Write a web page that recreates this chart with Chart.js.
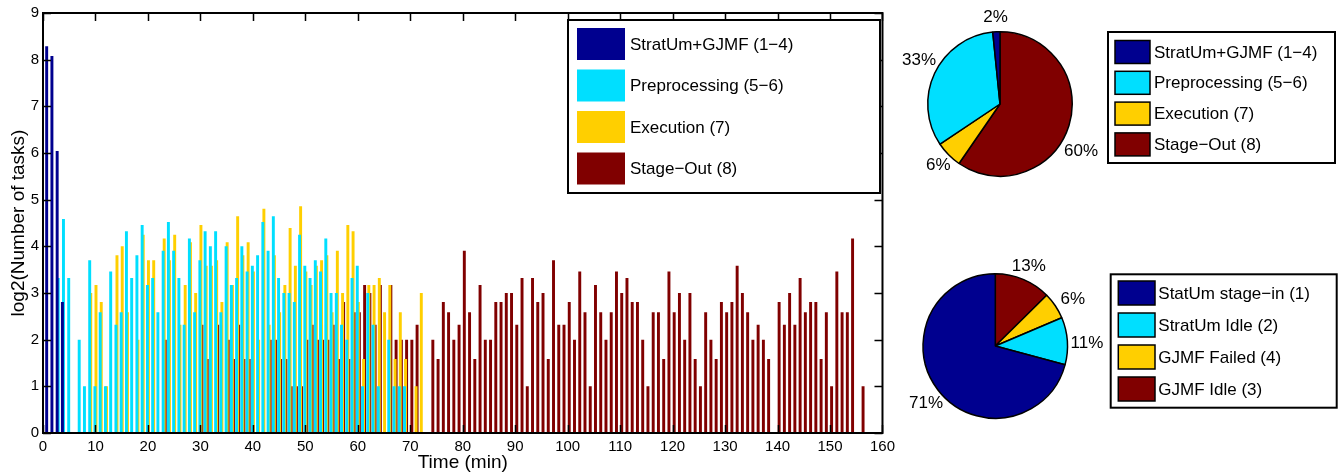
<!DOCTYPE html>
<html>
<head>
<meta charset="utf-8">
<title>Tasks per minute by stage</title>
<script src="https://cdn.jsdelivr.net/npm/chart.js@4.4.0/dist/chart.umd.min.js"></script>
<style>
  html, body { margin: 0; padding: 0; background: #fff; }
  #wrap { position: relative; width: 1338px; height: 472px; overflow: hidden; }
  canvas { position: absolute; }
  #mainChart { left: 0; top: 0; }
  #pieStages { left: 900px; top: 0; }
  #pieIdle { left: 900px; top: 236px; }
</style>
</head>
<body>
<div id="wrap">
  <canvas id="mainChart" width="900" height="472"></canvas>
  <canvas id="pieStages" width="438" height="236"></canvas>
  <canvas id="pieIdle" width="438" height="236"></canvas>
</div>
<script>
// series names (also used by the first pie)
const stageLabels = ['StratUm+GJMF (1−4)', 'Preprocessing (5−6)', 'Execution (7)', 'Stage−Out (8)'];

// number of tasks per minute, plotted as log2
const stratumMinutes = [1, 2, 3, 4];
const stratumTasks = [313, 270, 66, 7];

const preprocMinutes = [3, 4, 5, 7, 8, 9, 10, 11, 12, 13, 14, 15, 16, 17, 18, 19, 20, 21, 22, 23, 24, 25, 26, 27, 28, 29, 30,
  31, 32, 33, 34, 35, 36, 37, 38, 39, 40, 41, 42, 43, 44, 45, 46, 47, 48, 49, 50, 51, 52, 53, 54, 55, 56, 57, 58, 59, 60,
  61, 62, 63, 64, 66, 67, 68, 69];
const preprocTasks = [10, 24, 10, 4, 2, 13, 2, 6, 2, 11, 5, 6, 20, 10, 14, 22, 9, 10, 6, 15, 23, 15, 10, 5, 18, 6, 13,
  20, 16, 20, 6, 16, 9, 10, 16, 11, 12, 14, 23, 15, 25, 10, 8, 8, 7, 19, 12, 10, 13, 11, 18, 8, 8, 5, 4, 10, 12,
  2, 8, 5, 2, 4, 2, 2, 2];

const execMinutes = [9, 10, 11, 12, 14, 15, 16, 18, 19, 20, 21, 23, 24, 25, 26, 27, 28, 29, 30, 31, 32, 33, 34, 35, 36,
  37, 38, 39, 40, 41, 42, 43, 44, 45, 46, 47, 48, 49, 50, 51, 52, 53, 54, 55, 56, 57, 58, 59, 60, 61, 62, 63, 64, 65,
  66, 67, 68, 69, 71, 72];
const execTasks = [8, 9, 7, 2, 14, 16, 6, 4, 19, 13, 13, 18, 13, 19, 5, 9, 17, 8, 22, 12, 12, 13, 7, 17, 9,
  25, 14, 17, 11, 4, 28, 5, 14, 6, 9, 21, 12, 29, 11, 9, 12, 13, 14, 6, 15, 8, 22, 20, 7, 3, 9, 9, 10, 6,
  9, 3, 6, 3, 2, 8];

const stageOutMinutes = [23, 30, 31, 33, 35, 36, 37, 38, 39, 43, 44, 45, 46, 47, 48, 49, 50, 51, 52, 53, 54, 55, 56, 57,
  58, 59, 60, 61, 62, 63, 64, 66, 67, 68, 69, 70, 71, 74, 75, 76, 77, 78, 79, 80, 81, 82, 83, 84, 85, 86, 87, 88, 89,
  90, 91, 92, 93, 94, 95, 96, 97, 98, 99, 100, 101, 102, 103, 104, 105, 106, 107, 108, 109, 110, 111, 112, 113, 114,
  115, 116, 117, 118, 119, 120, 121, 122, 123, 124, 125, 126, 127, 128, 129, 130, 131, 132, 133, 134, 135, 136, 137,
  138, 140, 141, 142, 143, 144, 145, 146, 147, 148, 149, 150, 151, 152, 153, 154, 156];
const stageOutTasks = [4, 5, 3, 5, 4, 3, 5, 3, 3, 4, 4, 3, 3, 2, 2, 2, 4, 5, 4, 4, 4, 5, 3, 7,
  3, 6, 6, 9, 8, 5, 9, 9, 4, 4, 4, 4, 5, 4, 3, 7, 6, 4, 5, 15, 6, 3, 9, 4, 4, 7, 7, 8, 8,
  5, 10, 2, 10, 7, 8, 3, 13, 5, 5, 7, 4, 11, 6, 2, 9, 6, 4, 6, 11, 8, 10, 7, 7, 4,
  2, 6, 6, 3, 11, 6, 8, 4, 8, 3, 2, 6, 4, 3, 7, 6, 7, 12, 8, 6, 4, 5, 4,
  3, 7, 5, 8, 5, 10, 6, 7, 7, 3, 6, 2, 11, 6, 6, 18, 2];

// pie shares (%)
const stageShares = [1.6, 32.8, 6.0, 59.6];
const idleLabels = ['StatUm stage−in (1)', 'StratUm Idle (2)', 'GJMF Failed (4)', 'GJMF Idle (3)'];
const idleShares = [70.8, 10.6, 6.0, 12.6];

const palette = ['#00008F', '#00DFFF', '#FFCF00', '#800000'];

Chart.defaults.font.family = '"Liberation Sans", Arial, Helvetica, sans-serif';
Chart.defaults.color = '#000';

function toPoints(minutes, tasks) {
  return minutes.map((m, i) => ({ x: m, y: Math.log2(tasks[i]) }));
}

// MATLAB style box with inward ticks
const axesBox = {
  id: 'axesBox',
  afterDatasetsDraw(chart) {
    const { ctx, chartArea: a, scales: { x, y } } = chart;
    ctx.save();
    ctx.strokeStyle = '#000';
    ctx.lineWidth = 1.5;
    ctx.beginPath();
    x.ticks.forEach(t => {
      const px = Math.round(x.getPixelForValue(t.value)) + 0.5;
      ctx.moveTo(px, a.bottom); ctx.lineTo(px, a.bottom - 8);
      ctx.moveTo(px, a.top); ctx.lineTo(px, a.top + 8);
    });
    y.ticks.forEach(t => {
      const py = Math.round(y.getPixelForValue(t.value)) + 0.5;
      ctx.moveTo(a.left, py); ctx.lineTo(a.left + 8, py);
      ctx.moveTo(a.right, py); ctx.lineTo(a.right - 8, py);
    });
    ctx.stroke();
    ctx.lineWidth = 2;
    ctx.strokeRect(a.left, a.top, a.width, a.height);
    ctx.restore();
  }
};

// framed legend drawn at a fixed spot of the canvas
const boxLegend = {
  id: 'boxLegend',
  afterDraw(chart, args, opts) {
    const { ctx } = chart;
    ctx.save();
    ctx.fillStyle = '#fff';
    ctx.fillRect(opts.x, opts.y, opts.w, opts.h);
    ctx.strokeStyle = '#000';
    ctx.lineWidth = 2;
    ctx.strokeRect(opts.x, opts.y, opts.w, opts.h);
    ctx.font = opts.fontSize + 'px ' + Chart.defaults.font.family;
    ctx.textBaseline = 'middle';
    ctx.textAlign = 'left';
    opts.labels.forEach((label, i) => {
      const cy = opts.firstRow + i * opts.rowGap;
      ctx.fillStyle = opts.colors[i];
      ctx.fillRect(opts.swX, cy - opts.swH / 2, opts.swW, opts.swH);
      if (opts.swBorder) {
        ctx.lineWidth = 1.5;
        ctx.strokeRect(opts.swX, cy - opts.swH / 2, opts.swW, opts.swH);
      }
      ctx.fillStyle = '#000';
      ctx.fillText(label, opts.textX, cy + 1);
    });
    ctx.restore();
  }
};

// percent text outside each slice; nudge = [extra angle in degrees, radius factor]
const sliceLabels = {
  id: 'sliceLabels',
  afterDatasetsDraw(chart, args, opts) {
    const { ctx } = chart;
    const meta = chart.getDatasetMeta(0);
    const values = chart.data.datasets[0].data;
    ctx.save();
    ctx.font = opts.fontSize + 'px ' + Chart.defaults.font.family;
    ctx.fillStyle = '#000';
    ctx.textAlign = 'center';
    ctx.textBaseline = 'middle';
    meta.data.forEach((arc, i) => {
      const n = opts.nudge[i] || [0, opts.radius];
      const mid = (arc.startAngle + arc.endAngle) / 2 + n[0] * Math.PI / 180;
      const r = arc.outerRadius * n[1];
      ctx.fillText(Math.round(values[i]) + '%', arc.x + Math.cos(mid) * r, arc.y + Math.sin(mid) * r);
    });
    ctx.restore();
  }
};

document.addEventListener('DOMContentLoaded', function () {
  const seriesData = [
    toPoints(stratumMinutes, stratumTasks),
    toPoints(preprocMinutes, preprocTasks),
    toPoints(execMinutes, execTasks),
    toPoints(stageOutMinutes, stageOutTasks)
  ];

  new Chart(document.getElementById('mainChart'), {
    type: 'bar',
    data: {
      datasets: seriesData.map((d, i) => ({
        label: stageLabels[i],
        data: d,
        backgroundColor: palette[i],
        borderWidth: 0,
        categoryPercentage: 0.8,
        barPercentage: 2.8
      }))
    },
    options: {
      responsive: false,
      animation: false,
      devicePixelRatio: 1,
      layout: { padding: { left: 0, right: 16, top: 10, bottom: 0 } },
      plugins: {
        legend: { display: false },
        tooltip: { enabled: false },
        boxLegend: {
          x: 568, y: 20, w: 312, h: 173,
          swX: 577, swW: 48, swH: 32,
          firstRow: 44, rowGap: 41.5, textX: 630, fontSize: 17,
          swBorder: false,
          labels: stageLabels, colors: palette
        }
      },
      scales: {
        x: {
          type: 'linear', min: 0, max: 160, offset: false,
          grid: { display: false, drawTicks: false, offset: false },
          border: { display: false },
          ticks: { stepSize: 10, padding: 5, maxRotation: 0, font: { size: 15 } },
          title: { display: true, text: 'Time (min)', font: { size: 19 }, padding: { top: 0, bottom: -2 } },
          afterFit: scale => { scale.height = 39; }
        },
        y: {
          min: 0, max: 9,
          grid: { display: false, drawTicks: false },
          border: { display: false },
          ticks: { stepSize: 1, padding: 4, font: { size: 15 } },
          title: { display: true, text: 'log2(Number of tasks)', font: { size: 19 }, padding: { top: 7, bottom: 0 } },
          afterFit: scale => { scale.width = 43; }
        }
      }
    },
    plugins: [axesBox, boxLegend]
  });

  function makePie(id, labels, shares, padding, legendOpts, nudge) {
    // pie draws clockwise, reference goes counter-clockwise from the top
    const rev = a => a.slice().reverse();
    return new Chart(document.getElementById(id), {
      type: 'pie',
      data: {
        labels: rev(labels),
        datasets: [{
          data: rev(shares),
          backgroundColor: rev(palette),
          borderColor: '#000',
          borderWidth: 1.5
        }]
      },
      options: {
        responsive: false,
        animation: false,
        devicePixelRatio: 1,
        layout: { padding: padding },
        plugins: {
          legend: { display: false },
          tooltip: { enabled: false },
          sliceLabels: { radius: 1.2, fontSize: 17, nudge: rev(nudge) },
          boxLegend: Object.assign({ labels: labels, colors: palette, fontSize: 17, swBorder: true }, legendOpts)
        }
      },
      plugins: [sliceLabels, boxLegend]
    });
  }

  makePie('pieStages', stageLabels, stageShares,
    { left: 27, top: 31, right: 265, bottom: 59 },
    { x: 208, y: 32, w: 227, h: 131, swX: 215, swW: 35, swH: 23, firstRow: 52, rowGap: 30.8, textX: 254 },
    [null, [3, 1.27], null, [13, 1.3]]);

  makePie('pieIdle', idleLabels, idleShares,
    { left: 22.3, top: 37, right: 269.7, bottom: 53 },
    { x: 210.7, y: 38.3, w: 226, h: 133.4, swX: 218.3, swW: 36.7, swH: 24, firstRow: 57, rowGap: 32, textX: 258.3 },
    [[-2, 1.24], [2, 1.27], [3, 1.25], null]);
});
</script>
</body>
</html>
